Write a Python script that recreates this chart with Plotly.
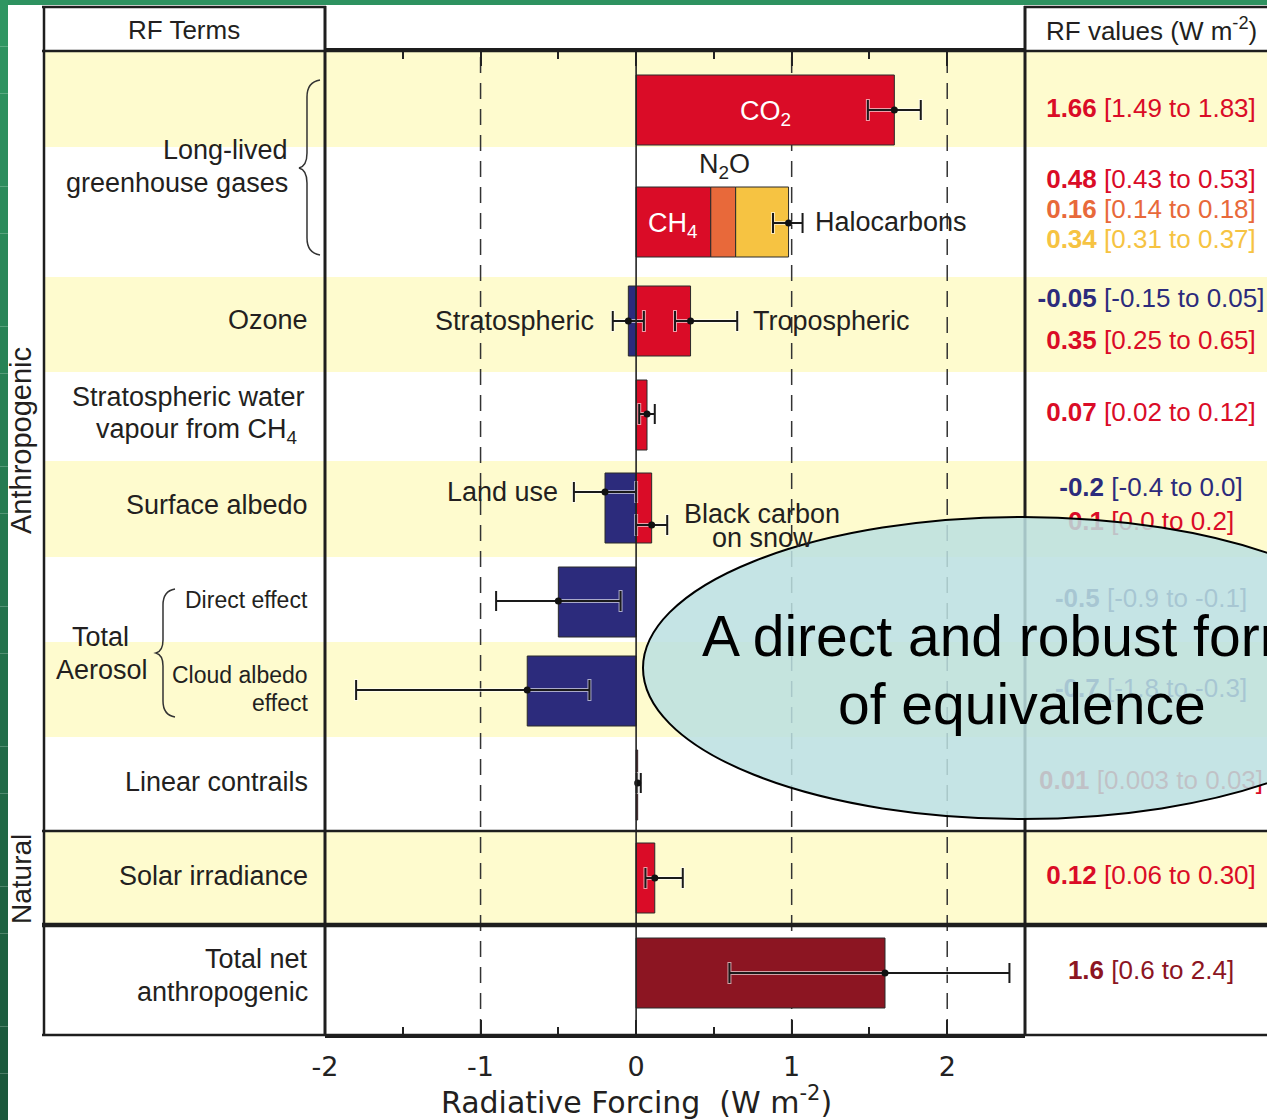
import plotly.graph_objects as go

W, H = 1267, 1120

# ---------------- data ----------------
terms = ["CO2", "CH4", "N2O", "Halocarbons", "Stratospheric ozone", "Tropospheric ozone",
         "Stratospheric water vapour", "Land use", "Black carbon on snow",
         "Direct effect", "Cloud albedo effect", "Linear contrails",
         "Solar irradiance", "Total net anthropogenic"]
rf_best = [1.66, 0.48, 0.16, 0.34, -0.05, 0.35, 0.07, -0.2, 0.1, -0.5, -0.7, 0.01, 0.12, 1.6]
rf_low = [1.49, 0.43, 0.14, 0.31, -0.15, 0.25, 0.02, -0.4, 0.0, -0.9, -1.8, 0.003, 0.06, 0.6]
rf_high = [1.83, 0.53, 0.18, 0.37, 0.05, 0.65, 0.12, 0.0, 0.2, -0.1, -0.3, 0.03, 0.30, 2.4]
best_txt = ["1.66", "0.48", "0.16", "0.34", "-0.05", "0.35", "0.07", "-0.2", "0.1", "-0.5",
            "-0.7", "0.01", "0.12", "1.6"]
low_txt = ["1.49", "0.43", "0.14", "0.31", "-0.15", "0.25", "0.02", "-0.4", "0.0", "-0.9",
           "-1.8", "0.003", "0.06", "0.6"]
high_txt = ["1.83", "0.53", "0.18", "0.37", "0.05", "0.65", "0.12", "0.0", "0.2", "-0.1",
            "-0.3", "0.03", "0.30", "2.4"]
# combined whisker drawn at the top of the CH4 + N2O + halocarbon stack
ghg_stack = (0.98, 0.88, 1.07)
tick_vals = [-2, -1, 0, 1, 2]
tick_text = ["-2", "-1", "0", "1", "2"]

# ---------------- style / layout ----------------
RED, ORANGE, YELLOW, BLUE, DARKRED = "#DA0C27", "#E8693A", "#F6C342", "#2C2B7C", "#8C1522"
TXT = "#231F20"
bar_color = [RED, RED, ORANGE, YELLOW, BLUE, RED, RED, BLUE, RED, BLUE, BLUE, RED, RED, DARKRED]
# vertical layout (pixel rows of the table)
bar_y = [110, 222, 222, 222, 321, 321, 415, 508, 508, 602, 691, 785, 878, 973]
whisker_y = [110, None, None, 223, 321, 321, 414, 492, 525, 601, 690, 783, 878, 973]
value_y = [110, 181, 211, 241, 300, 342, 414, 489, 523, 600, 690, 782, 877, 972]
BAR_H = 70

FONT = "Liberation Sans, Arial, Helvetica, sans-serif"
FONT2 = "DejaVu Sans, Liberation Sans, sans-serif"


def px(x):
    return x / W


def py(y):
    return 1 - y / H


fig = go.Figure()

# bars (relative stacking handles CH4/N2O/halocarbon stack and +/- pairs)
for i, t in enumerate(terms):
    fig.add_trace(go.Bar(
        x=[rf_best[i]], y=[bar_y[i]], orientation="h", width=BAR_H, name=t,
        marker=dict(color=bar_color[i], line=dict(color="#2a2a2a", width=1)),
        showlegend=False, hoverinfo="skip"))

# whiskers
wx, wlo, whi, wy = [], [], [], []
for i, t in enumerate(terms):
    if whisker_y[i] is None:
        continue
    if t == "Halocarbons":
        b, lo, hi = ghg_stack
    else:
        b, lo, hi = rf_best[i], rf_low[i], rf_high[i]
    wx.append(b)
    wlo.append(b - lo)
    whi.append(hi - b)
    wy.append(whisker_y[i])

fig.add_trace(go.Scatter(
    x=wx, y=wy, mode="markers", marker=dict(size=1, color="rgba(0,0,0,0)"),
    error_x=dict(type="data", symmetric=False, array=whi, arrayminus=wlo,
                 color="rgba(255,255,255,0.6)", thickness=4, width=11),
    showlegend=False, hoverinfo="skip"))
fig.add_trace(go.Scatter(
    x=wx, y=wy, mode="markers", marker=dict(size=7, color="#111"),
    error_x=dict(type="data", symmetric=False, array=whi, arrayminus=wlo,
                 color="#1a1a1a", thickness=2, width=10),
    showlegend=False, hoverinfo="skip"))

# right column values (as a trace so the ellipse overlay can cover them)
vals = [f"<b>{b}</b> [{l} to {h}]" for b, l, h in zip(best_txt, low_txt, high_txt)]
fig.add_trace(go.Scatter(
    x=[1151] * len(vals), y=value_y, mode="text", text=vals,
    textfont=dict(family=FONT, size=26, color=bar_color), textposition="middle center",
    xaxis="x2", yaxis="y2", showlegend=False, hoverinfo="skip", cliponaxis=False))

shapes = []
# green frame (gradient strip on the left)
shapes.append(dict(type="rect", xref="paper", yref="paper", x0=0, x1=1, y0=py(5), y1=1,
                   fillcolor="rgb(46,146,96)", line_width=0, layer="below"))
N = 24
for k in range(N):
    f = k / (N - 1)
    c = "rgb(%d,%d,%d)" % (47 - 20 * f, 150 - 62 * f, 98 - 38 * f)
    shapes.append(dict(type="rect", xref="paper", yref="paper", x0=0, x1=px(8),
                       y0=py(H * (k + 1) / N), y1=py(H * k / N), fillcolor=c,
                       line_width=0, layer="below"))

# yellow bands
BAND = "#FEFBCE"
for y0, y1 in [(51, 147), (277, 372), (461, 557), (642, 737), (832, 923)]:
    shapes.append(dict(type="rect", xref="paper", yref="paper", x0=px(44), x1=1,
                       y0=py(y1), y1=py(y0), fillcolor=BAND, line_width=0, layer="below"))

# dashed reference lines
for v in [-1, 1, 2]:
    shapes.append(dict(type="line", xref="x", yref="paper", x0=v, x1=v, y0=py(1035), y1=py(51),
                       line=dict(color="#333", width=1.5, dash="16px,10px"), layer="below"))
# zero line
shapes.append(dict(type="line", xref="x", yref="paper", x0=0, x1=0, y0=py(1035), y1=py(51),
                   line=dict(color="#222", width=1.6), layer="above"))

# table frame lines
LC = "#1e1e1e"


def hline(y, x0, x1, w):
    shapes.append(dict(type="line", xref="paper", yref="paper", x0=px(x0), x1=px(x1),
                       y0=py(y), y1=py(y), line=dict(color=LC, width=w), layer="above"))


def vline(x, y0, y1, w):
    shapes.append(dict(type="line", xref="paper", yref="paper", x0=px(x), x1=px(x),
                       y0=py(y0), y1=py(y1), line=dict(color=LC, width=w), layer="above"))


hline(7, 42, 326, 2.5)
hline(7, 1024, 1267, 2.5)
hline(51, 42, 1267, 2.5)
hline(831, 42, 1267, 2.5)
hline(925, 42, 1267, 4.5)
hline(1035, 42, 1267, 2.5)
vline(44, 6, 1036, 2.5)
vline(325, 6, 1036, 3)
vline(1025, 6, 1036, 3)


def path(pts):
    out = []
    for cmd, *xy in pts:
        coords = " ".join("%.5f,%.5f" % (px(xy[j]), py(xy[j + 1])) for j in range(0, len(xy), 2))
        out.append(cmd + " " + coords)
    return " ".join(out)


brace1 = path([("M", 320, 80), ("Q", 307, 82, 307, 97), ("L", 307, 153),
               ("Q", 307, 166, 299, 168), ("Q", 307, 170, 307, 183), ("L", 307, 238),
               ("Q", 307, 253, 320, 255)])
brace2 = path([("M", 175, 589), ("Q", 163, 591, 163, 605), ("L", 163, 640),
               ("Q", 163, 651, 156, 653), ("Q", 163, 655, 163, 666), ("L", 163, 701),
               ("Q", 163, 715, 175, 717)])
for b in (brace1, brace2):
    shapes.append(dict(type="path", xref="paper", yref="paper", path=b,
                       line=dict(color="#333", width=1.5), layer="above"))

# ellipse overlay
shapes.append(dict(type="circle", xref="paper", yref="paper", x0=px(643), x1=px(1401),
                   y0=py(819), y1=py(517), fillcolor="rgba(187,224,225,0.86)",
                   line=dict(color="#000", width=2), layer="above"))

ann = []


def label(text, x, y, anchor="right", size=27, color=TXT, ref="paper", family=FONT, angle=0):
    if ref == "paper":
        xx, yy, xr, yr = px(x), py(y), "paper", "paper"
    else:
        xx, yy, xr, yr = x, y, "x", "y"
    ann.append(dict(text=text, x=xx, y=yy, xref=xr, yref=yr, xanchor=anchor, yanchor="middle",
                    showarrow=False, textangle=angle,
                    font=dict(family=family, size=size, color=color)))


# headers
label("RF Terms", 184, 30, "center", 26)
label("RF values (W m<sup>-2</sup>)", 1151, 29, "center", 26)

# left column
label("Long-lived", 290, 150)
label("greenhouse gases", 290, 183)
label("Ozone", 310, 320)
label("Stratospheric water", 188, 397, "center")
label("vapour from CH<sub>4</sub>", 196, 431, "center")
label("Surface albedo", 310, 505)
label("Total", 100, 637, "center")
label("Aerosol", 102, 670, "center")
label("Direct effect", 310, 600, size=23)
label("Cloud albedo", 310, 675, size=23)
label("effect", 310, 703, size=23)
label("Linear contrails", 310, 782)
label("Solar irradiance", 310, 876)
label("Total net", 310, 959)
label("anthropogenic", 310, 992)
label("Anthropogenic", 21, 441, "center", 29, angle=-90)
label("Natural", 21, 879, "center", 28, angle=-90)

# labels within the chart (data coordinates)
label("CO<sub>2</sub>", 0.83, 113, "center", 27, "white", ref="data")
label("CH<sub>4</sub>", 0.24, 225, "center", 27, "white", ref="data")
label("N<sub>2</sub>O", 0.57, 166, "center", 27, ref="data")
label("Halocarbons", 1.14, 222, "left", 27, ref="data")
label("Stratospheric", -0.26, 321, "right", 27, ref="data")
label("Tropospheric", 0.74, 321, "left", 27, ref="data")
label("Land use", -0.49, 492, "right", 27, ref="data")
label("Black carbon", 0.81, 514, "center", 27, ref="data")
label("on snow", 0.81, 538, "center", 27, ref="data")

# axis title
label("Radiative Forcing  (W m<sup>-2</sup>)", 636, 1100, "center", 30, family=FONT2)

# ellipse text
ann.append(dict(text="A direct and robust form", x=px(700), y=py(636), xref="paper", yref="paper",
                xanchor="left", yanchor="middle", showarrow=False,
                font=dict(family=FONT, size=57, color="#000")))
ann.append(dict(text="of equivalence", x=px(1022), y=py(704), xref="paper", yref="paper",
                xanchor="center", yanchor="middle", showarrow=False,
                font=dict(family=FONT, size=57, color="#000")))

fig.update_layout(
    width=W, height=H, margin=dict(l=0, r=0, t=0, b=0, autoexpand=False),
    paper_bgcolor="white", plot_bgcolor="rgba(0,0,0,0)",
    barmode="relative", showlegend=False,
    shapes=shapes, annotations=ann,
    xaxis=dict(domain=[px(325), px(1025)], range=[-2, 2.5],
               tickmode="array", tickvals=tick_vals, ticktext=tick_text,
               ticks="inside", ticklen=15, tickwidth=2, tickcolor="#222",
               showline=True, linecolor="#1e1e1e", linewidth=3, mirror="ticks",
               showgrid=False, zeroline=False, ticklabelstandoff=6,
               tickfont=dict(family=FONT2, size=27, color="#222"),
               minor=dict(tickmode="linear", tick0=0, dtick=0.5, ticks="inside", ticklen=8,
                          tickwidth=2, tickcolor="#222", showgrid=False),
               anchor="y", fixedrange=True),
    yaxis=dict(domain=[py(1035), py(51)], range=[1035, 51], visible=False,
               anchor="x", fixedrange=True),
    xaxis2=dict(domain=[0, 1], range=[0, W], visible=False, anchor="y2", fixedrange=True),
    yaxis2=dict(domain=[0, 1], range=[H, 0], visible=False, anchor="x2", fixedrange=True),
)

fig.write_html("out.html", config={"displayModeBar": False},
               post_script="document.body.style.margin='0';"
               "document.body.style.overflow='hidden';")
